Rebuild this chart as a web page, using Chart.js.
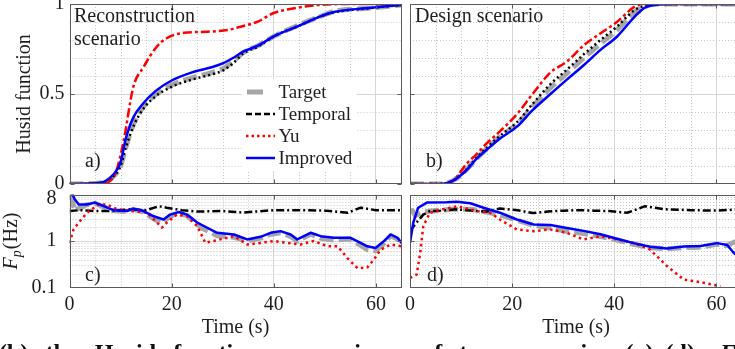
<!DOCTYPE html>
<html><head><meta charset="utf-8">
<script src="https://cdn.jsdelivr.net/npm/chart.js@4.4.0/dist/chart.umd.min.js"></script>
<style>
html,body{margin:0;padding:0;background:#fff;overflow:hidden;}
#wrap{position:relative;width:735px;height:349px;overflow:hidden;background:#fff;}
canvas{position:absolute;}
#cap{position:absolute;left:-1px;top:340px;width:746px;font:bold 24px 'Liberation Serif','Times New Roman',serif;line-height:24px;color:#111;text-align:justify;text-align-last:justify;}
#cap sub{font-size:16px;line-height:0;}
</style></head>
<body>
<div id="wrap">
<canvas id="ca" width="404" height="190" style="left:0;top:0"></canvas>
<canvas id="cb" width="345" height="190" style="left:402px;top:0"></canvas>
<canvas id="cc" width="404" height="159" style="left:0;top:190px"></canvas>
<canvas id="cd" width="345" height="159" style="left:402px;top:190px"></canvas>
<div id="cap">(b) the Husid function comparisons of two scenarios (a)–(d): <i>F</i><sub>p</sub></div>
</div>
<script>
// ---------- tick labels / categories ----------
const xTickValues = [0, 20, 40, 60];
const xTickLabels = ['0', '20', '40', '60'];
const husidTickValues = [0, 0.5, 1];
const husidTickLabels = ['0', '0.5', '1'];
const fpTickValues = [0.1, 1, 8];
const fpTickLabels = ['0.1', '1', '8'];
const seriesNames = ['Target', 'Temporal', 'Yu', 'Improved'];

// ---------- a) Reconstruction scenario: Husid function ----------
const aTime      = [0, 6, 8.5, 10, 11, 12.5, 14.5, 17, 20, 24, 28, 30, 32, 34, 37, 40, 45, 49, 52, 58, 65];
const aTarget    = [0, 0.005, 0.04, 0.10, 0.20, 0.33, 0.43, 0.50, 0.55, 0.59, 0.62, 0.64, 0.68, 0.73, 0.77, 0.82, 0.885, 0.93, 0.96, 0.975, 0.995];
const aTemporal  = [0, 0.005, 0.04, 0.10, 0.20, 0.32, 0.42, 0.49, 0.54, 0.58, 0.61, 0.63, 0.67, 0.725, 0.765, 0.82, 0.88, 0.93, 0.955, 0.975, 0.995];
const aImproved  = [0, 0.007, 0.05, 0.12, 0.25, 0.37, 0.45, 0.52, 0.575, 0.62, 0.65, 0.67, 0.70, 0.735, 0.77, 0.82, 0.88, 0.93, 0.957, 0.976, 0.995];
const aTimeYu    = [0, 6.8, 9, 10.6, 12.5, 14.5, 17, 19, 22.4, 27, 31, 33.5, 36.7, 40, 44, 48.5, 55, 65];
const aYu        = [0, 0.005, 0.06, 0.24, 0.54, 0.65, 0.76, 0.81, 0.84, 0.846, 0.856, 0.874, 0.90, 0.95, 0.976, 0.994, 1.0, 1.0];

// ---------- b) Design scenario: Husid function ----------
const bTime      = [0, 6, 8.5, 11, 13, 15, 17.5, 21, 24, 27.5, 30.7, 34, 37.3, 40.5, 44, 46, 48, 52, 65];
const bTarget    = [0, 0, 0.02, 0.078, 0.14, 0.195, 0.26, 0.335, 0.43, 0.535, 0.615, 0.70, 0.78, 0.855, 0.955, 0.985, 1.0, 1.0, 1.0];
const bTemporal  = [0, 0, 0.02, 0.08, 0.145, 0.20, 0.265, 0.345, 0.445, 0.555, 0.635, 0.72, 0.80, 0.874, 0.967, 0.99, 1.0, 1.0, 1.0];
const bYu        = [0, 0, 0.02, 0.11, 0.165, 0.225, 0.29, 0.39, 0.50, 0.62, 0.68, 0.77, 0.837, 0.90, 0.985, 1.0, 1.0, 1.0, 1.0];
const bImproved  = [0, 0, 0.02, 0.075, 0.14, 0.19, 0.25, 0.32, 0.41, 0.50, 0.58, 0.66, 0.745, 0.818, 0.93, 0.98, 0.995, 1.0, 1.0];

// ---------- c) Reconstruction scenario: Fp (Hz) ----------
const cTimeTarget   = [0, 0.5, 1, 1.8, 3.4, 5, 6.7, 8.6, 11.3, 12.5, 14.5, 16.5, 18, 19.7, 21.4, 23, 25, 26.3, 28.9, 32.2, 34.8, 37.4, 39.4, 41.3, 43.3, 44.6, 47.2, 49.2, 51.8, 55, 57, 58.3, 59.9, 61.6, 62.9, 64.2, 65];
const cTarget       = [10, 8, 4.5, 5, 6, 6.5, 5.4, 4.5, 4.3, 4.8, 4.2, 3.0, 2.4, 3.4, 4.0, 3.5, 2.3, 1.8, 1.3, 1.2, 1.0, 1.15, 1.4, 1.5, 1.25, 1.0, 1.4, 1.15, 1.05, 1.1, 0.8, 0.65, 0.62, 0.9, 1.3, 1.1, 0.85];
const cTimeTemporal = [0, 2, 5, 8, 12, 15, 17.5, 19, 22, 25, 30, 34, 40, 45, 50, 54.5, 57, 60, 65];
const cTemporal     = [4.4, 4.6, 4.4, 4.4, 4.8, 4.6, 5.6, 5.2, 4.6, 4.3, 4.4, 4.1, 4.6, 4.6, 4.5, 4.06, 5.2, 4.6, 4.6];
const cTimeYu       = [0, 0.8, 1.8, 3.4, 5.7, 7.3, 9.3, 12.5, 15.2, 17.1, 18.1, 19.1, 21, 23, 25, 26.6, 28.2, 32.2, 34.8, 37.4, 40, 42.6, 45.2, 47.8, 50.5, 52.5, 54.4, 56.4, 58.3, 59.6, 60.9, 62.9, 65];
const cYu           = [0.91, 1.77, 2.47, 4.06, 6.1, 6.1, 4.8, 4.4, 4.06, 2.5, 1.93, 2.5, 3.7, 3.4, 2.1, 0.91, 1.0, 1.27, 0.84, 0.91, 1.0, 0.91, 0.84, 1.0, 0.77, 0.77, 0.43, 0.26, 0.27, 0.40, 0.65, 0.84, 0.77];
const cTimeImproved = [0.3, 1, 1.8, 3.4, 5, 6.7, 8.6, 11.3, 12.5, 14.5, 16.5, 18.4, 19.7, 21.4, 23, 25, 26.3, 28.9, 32.2, 34.8, 37.4, 39.4, 41.3, 43.3, 44.6, 47.2, 49.2, 51.8, 55, 57, 58.3, 59.9, 61.6, 62.9, 64.2, 65];
const cImproved     = [12, 8, 6.1, 6.1, 6.7, 5.6, 4.6, 4.4, 4.95, 4.4, 3.4, 2.9, 3.7, 4.2, 3.7, 2.5, 2.1, 1.5, 1.38, 1.08, 1.23, 1.5, 1.63, 1.38, 1.08, 1.5, 1.27, 1.17, 1.17, 0.91, 0.77, 0.71, 1.0, 1.38, 1.17, 0.91];

// ---------- d) Design scenario: Fp (Hz) ----------
const dTimeTarget   = [0, 0.5, 1, 2, 4, 8, 12, 15, 18, 21, 24, 27.5, 30.7, 34, 37.3, 40.5, 43.8, 47, 50.3, 53.6, 56.9, 60, 62, 64, 65];
const dTarget       = [4.5, 4.5, 3.5, 4.0, 4.4, 4.8, 4.8, 4.2, 3.5, 2.8, 2.2, 1.9, 1.6, 1.45, 1.25, 1.05, 0.85, 0.72, 0.68, 0.72, 0.73, 0.85, 0.8, 1.0, 0.95];
const dTimeTemporal = [0, 1.3, 2.6, 3.9, 6, 9, 12, 15, 17.6, 21, 24, 27, 30, 33, 36, 39, 42.5, 44, 46, 50, 55, 60, 65];
const dTemporal     = [1.63, 2.5, 3.7, 4.4, 4.5, 4.8, 4.5, 4.3, 5.0, 4.6, 4.0, 4.3, 4.5, 4.6, 4.5, 4.4, 4.06, 4.6, 5.6, 4.8, 4.6, 4.5, 4.8];
const dTimeYu       = [0, 1.3, 2, 2.6, 3.9, 6.5, 9.2, 13.1, 15.7, 17.6, 20.9, 24.2, 27.5, 30.7, 34, 37.3, 40.5, 43.8, 47, 50.3, 53.6, 56.9, 60.8];
const dYu           = [0.16, 0.19, 0.56, 2.09, 4.06, 4.8, 5.6, 4.4, 4.06, 2.9, 1.77, 1.63, 1.77, 1.5, 1.08, 1.27, 1.08, 0.91, 0.65, 0.29, 0.148, 0.13, 0.106];
const dTimeImproved = [0, 0.65, 1.6, 3.3, 7.2, 9.2, 11.8, 14.4, 17.6, 20.9, 24.2, 27.5, 30.7, 34, 37.3, 40.5, 43.8, 47, 50.3, 53.6, 56.9, 60.1, 62.1, 63.4, 65];
const dImproved     = [0.91, 2.5, 5.2, 6.7, 6.8, 7.0, 6.5, 5.2, 4.06, 2.9, 2.27, 2.2, 1.9, 1.65, 1.4, 1.12, 0.9, 0.75, 0.69, 0.76, 0.78, 0.9, 0.82, 0.55, 0.45];

// ---------- styles ----------
const SERIF = "'Liberation Serif', 'Times New Roman', serif";
const TXT = '#1f1f1f';
const MAJOR = '#d6d6d6';
const MINOR = '#c8c8c8';
const FRAME = '#5a5a5a';
const NONE = 'rgba(0,0,0,0)';

const styleHusid = {
  Target:   {color: '#a6a6a6', width: 5,   dash: [14, 5],      order: 3},
  Temporal: {color: '#000000', width: 2.5, dash: [2, 3],       order: 2},
  Yu:       {color: '#ff0000', width: 2.5, dash: [9, 3, 3, 3], order: 1},
  Improved: {color: '#0000ff', width: 2.5, dash: [],           order: 0}
};
const styleFp = {
  Target:   {color: '#a6a6a6', width: 5,   dash: [14, 5],      order: 3},
  Temporal: {color: '#000000', width: 2.5, dash: [8, 3, 2, 3], order: 2},
  Yu:       {color: '#ff0000', width: 2.5, dash: [2.5, 3.5],   order: 1},
  Improved: {color: '#0000ff', width: 2.5, dash: [],           order: 0}
};
const legendStyle = {
  Target:   {color: '#a6a6a6', width: 5,   dash: [], short: true},
  Temporal: {color: '#000000', width: 2.5, dash: [6, 3]},
  Yu:       {color: '#ff0000', width: 2.5, dash: [2.5, 3]},
  Improved: {color: '#0000ff', width: 2.5, dash: []}
};

const minorX = [5, 10, 15, 25, 30, 35, 45, 50, 55];
const minorHusid = [0.1, 0.2, 0.3, 0.4, 0.6, 0.7, 0.8, 0.9];
const minorFp = [0.2, 0.3, 0.4, 0.5, 0.6, 0.7, 0.8, 0.9, 2, 3, 4, 5, 6, 7, 8, 9];

const panelPlugin = {
  id: 'panel',
  beforeDatasetsDraw(chart, args, o) {
    const {ctx, chartArea: a} = chart;
    const x = chart.scales.x, y = chart.scales.y;
    ctx.save();
    ctx.strokeStyle = MINOR; ctx.lineWidth = 1; ctx.setLineDash([1, 2]);
    (o.minorX || []).forEach(v => {
      const p = Math.round(x.getPixelForValue(v)) + 0.5;
      ctx.beginPath(); ctx.moveTo(p, a.top); ctx.lineTo(p, a.bottom); ctx.stroke();
    });
    (o.minorY || []).forEach(v => {
      const p = Math.round(y.getPixelForValue(v)) + 0.5;
      ctx.beginPath(); ctx.moveTo(a.left, p); ctx.lineTo(a.right, p); ctx.stroke();
    });
    ctx.restore();
  },
  afterDatasetsDraw(chart, args, o) {
    const {ctx, chartArea: a} = chart;
    const x = chart.scales.x, y = chart.scales.y;
    ctx.save();
    const L = Math.round(a.left) + 0.5, T = Math.round(a.top) + 0.5;
    const R = Math.round(a.right) - 0.5, B = Math.round(a.bottom) - 0.5;
    ctx.setLineDash([]);
    ctx.strokeStyle = FRAME; ctx.lineWidth = 1;
    ctx.strokeRect(L, T, R - L, B - T);
    ctx.beginPath();
    xTickValues.forEach(v => {
      if (v <= 0) return;
      const p = Math.round(x.getPixelForValue(v)) + 0.5;
      ctx.moveTo(p, B); ctx.lineTo(p, B - 4); ctx.moveTo(p, T); ctx.lineTo(p, T + 4);
    });
    (o.yTicks || []).forEach(v => {
      const p = Math.round(y.getPixelForValue(v)) + 0.5;
      ctx.moveTo(L, p); ctx.lineTo(L + 4, p); ctx.moveTo(R, p); ctx.lineTo(R - 4, p);
    });
    ctx.stroke();
    ctx.fillStyle = TXT; ctx.textBaseline = 'alphabetic'; ctx.textAlign = 'left';
    (o.texts || []).forEach(t => {
      ctx.font = t.size + 'px ' + SERIF;
      ctx.fillText(t.text, a.left + t.dx, a.top + t.dy);
    });
    if (o.legend) {
      const lg = o.legend;
      ctx.fillStyle = '#ffffff';
      ctx.fillRect(a.left + lg.boxX, a.top + lg.boxY, lg.boxW, lg.boxH);
      seriesNames.forEach((name, i) => {
        const st = legendStyle[name];
        const yy = a.top + lg.y0 + i * lg.dy;
        ctx.strokeStyle = st.color; ctx.lineWidth = st.width; ctx.setLineDash(st.dash);
        ctx.beginPath();
        const x0 = a.left + lg.x0 + (st.short ? 1 : 0);
        ctx.moveTo(x0, yy); ctx.lineTo(x0 + (st.short ? lg.shortLen : lg.len), yy); ctx.stroke();
        ctx.setLineDash([]);
        ctx.fillStyle = TXT; ctx.font = lg.size + 'px ' + SERIF;
        ctx.fillText(name, a.left + lg.tx, yy + lg.textDy);
      });
    }
    if (o.fpTitle) {
      const f = o.fpTitle;
      ctx.translate(f.x, (a.top + a.bottom) / 2);
      ctx.rotate(-Math.PI / 2);
      ctx.fillStyle = TXT; ctx.textBaseline = 'middle';
      const fI = 'italic ' + f.size + 'px ' + SERIF, fS = 'italic ' + f.subSize + 'px ' + SERIF, fN = f.size + 'px ' + SERIF;
      ctx.font = fI; const w1 = ctx.measureText('F').width;
      ctx.font = fS; const w2 = ctx.measureText('p').width;
      ctx.font = fN; const w3 = ctx.measureText('(Hz)').width;
      let cx = -(w1 + w2 + w3 + 1) / 2;
      ctx.font = fI; ctx.fillText('F', cx, 0); cx += w1;
      ctx.font = fS; ctx.fillText('p', cx, 5); cx += w2 + 1;
      ctx.font = fN; ctx.fillText('(Hz)', cx, 0);
    }
    ctx.restore();
  }
};

function pts(ts, vs) { return ts.map((t, i) => ({x: t, y: vs[i]})); }

function makePanel(id, cfg) {
  const datasets = cfg.series.map(s => {
    const st = cfg.styles[s.name];
    return {
      label: s.name, data: pts(s.t, s.v),
      borderColor: st.color, borderWidth: st.width, borderDash: st.dash,
      borderCapStyle: 'butt', borderJoinStyle: 'round',
      pointRadius: 0, fill: false, order: st.order,
      tension: cfg.smooth ? 0.4 : 0,
      cubicInterpolationMode: cfg.smooth ? 'monotone' : 'default'
    };
  });
  const yCommon = {
    afterBuildTicks: s => { s.ticks = cfg.yTickValues.map(v => ({value: v})); },
    afterFit: s => { s.width = cfg.yWidth; s.paddingTop = 0; s.paddingBottom = 0; },
    ticks: {
      display: cfg.showY, padding: cfg.yPad, color: TXT, font: {family: SERIF, size: 20},
      callback: v => { const k = cfg.yTickValues.indexOf(v); return k >= 0 ? cfg.yTickLabels[k] : ''; }
    },
    grid: { color: c => (c.tick && cfg.yMajor.includes(c.tick.value)) ? MAJOR : NONE, drawTicks: false, lineWidth: 1 },
    border: { display: false },
    title: { display: !!cfg.yTitle, text: cfg.yTitle || '', color: TXT, font: {family: SERIF, size: 20}, padding: {top: 13, bottom: 0} }
  };
  const yScale = cfg.log
    ? Object.assign({type: 'logarithmic', min: 0.1, max: 10}, yCommon)
    : Object.assign({type: 'linear', min: 0, max: 1}, yCommon);
  return new Chart(document.getElementById(id), {
    type: 'line',
    data: {datasets},
    options: {
      responsive: false, animation: false, devicePixelRatio: 1,
      layout: {padding: cfg.padding},
      plugins: { legend: {display: false}, tooltip: {enabled: false}, panel: cfg.panel },
      scales: {
        x: {
          type: 'linear', min: 0, max: 65,
          afterBuildTicks: s => { s.ticks = xTickValues.map(v => ({value: v})); },
          afterFit: s => { s.height = cfg.xHeight; s.paddingLeft = 0; s.paddingRight = 0; },
          ticks: {
            display: cfg.showX, padding: 5, color: TXT, font: {family: SERIF, size: 20},
            maxRotation: 0, autoSkip: false,
            callback: v => { const k = xTickValues.indexOf(v); return k >= 0 ? xTickLabels[k] : ''; }
          },
          grid: { color: c => (c.tick && c.tick.value > 0 && c.tick.value < 65) ? MAJOR : NONE, drawTicks: false, lineWidth: 1 },
          border: { display: false },
          title: { display: cfg.showX, text: 'Time (s)', color: TXT, font: {family: SERIF, size: 20}, padding: {top: 0, bottom: 9} }
        },
        y: yScale
      }
    },
    plugins: [panelPlugin]
  });
}

const legendCfg = {x0: 176.5, len: 29, shortLen: 16, tx: 209, y0: 88, dy: 22, textDy: 6, size: 19,
                   boxX: 172, boxY: 75, boxW: 115, boxH: 92};

makePanel('ca', {
  styles: styleHusid, smooth: true, log: false,
  series: [
    {name: 'Target', t: aTime, v: aTarget},
    {name: 'Temporal', t: aTime, v: aTemporal},
    {name: 'Yu', t: aTimeYu, v: aYu},
    {name: 'Improved', t: aTime, v: aImproved}
  ],
  yTickValues: husidTickValues, yTickLabels: husidTickLabels, yMajor: [0.5],
  padding: {left: 0, top: 4, right: 2.5, bottom: 6}, yWidth: 69.5, xHeight: 0,
  showX: false, showY: true, yPad: 5, yTitle: 'Husid function',
  panel: {minorX: minorX, minorY: minorHusid, yTicks: husidTickValues,
    texts: [{text: 'Reconstruction', dx: 4.5, dy: 18, size: 20}, {text: 'scenario', dx: 4.5, dy: 41, size: 20}, {text: 'a)', dx: 15.5, dy: 163, size: 20}],
    legend: legendCfg}
});

makePanel('cb', {
  styles: styleHusid, smooth: true, log: false,
  series: [
    {name: 'Target', t: bTime, v: bTarget},
    {name: 'Temporal', t: bTime, v: bTemporal},
    {name: 'Yu', t: bTime, v: bYu},
    {name: 'Improved', t: bTime, v: bImproved}
  ],
  yTickValues: husidTickValues, yTickLabels: husidTickLabels, yMajor: [0.5],
  padding: {left: 0, top: 4, right: 5, bottom: 6}, yWidth: 8, xHeight: 0,
  showX: false, showY: false, yPad: 5,
  panel: {minorX: minorX, minorY: minorHusid, yTicks: husidTickValues,
    texts: [{text: 'Design scenario', dx: 5, dy: 18, size: 20}, {text: 'b)', dx: 16, dy: 163, size: 20}]}
});

makePanel('cc', {
  styles: styleFp, smooth: false, log: true,
  series: [
    {name: 'Target', t: cTimeTarget, v: cTarget},
    {name: 'Temporal', t: cTimeTemporal, v: cTemporal},
    {name: 'Yu', t: cTimeYu, v: cYu},
    {name: 'Improved', t: cTimeImproved, v: cImproved}
  ],
  yTickValues: fpTickValues, yTickLabels: fpTickLabels, yMajor: [1],
  padding: {left: 0, top: 4.5, right: 2.5, bottom: 0}, yWidth: 69.5, xHeight: 61.5,
  showX: true, showY: true, yPad: 13,
  panel: {minorX: minorX, minorY: minorFp, yTicks: [1],
    texts: [{text: 'c)', dx: 15.5, dy: 86, size: 20}],
    fpTitle: {x: 12, size: 20, subSize: 14}}
});

makePanel('cd', {
  styles: styleFp, smooth: false, log: true,
  series: [
    {name: 'Target', t: dTimeTarget, v: dTarget},
    {name: 'Temporal', t: dTimeTemporal, v: dTemporal},
    {name: 'Yu', t: dTimeYu, v: dYu},
    {name: 'Improved', t: dTimeImproved, v: dImproved}
  ],
  yTickValues: fpTickValues, yTickLabels: fpTickLabels, yMajor: [1],
  padding: {left: 0, top: 4.5, right: 5, bottom: 0}, yWidth: 8, xHeight: 61.5,
  showX: true, showY: false, yPad: 13,
  panel: {minorX: minorX, minorY: minorFp, yTicks: [1],
    texts: [{text: 'd)', dx: 17, dy: 86, size: 20}]}
});
</script>
</body></html>
